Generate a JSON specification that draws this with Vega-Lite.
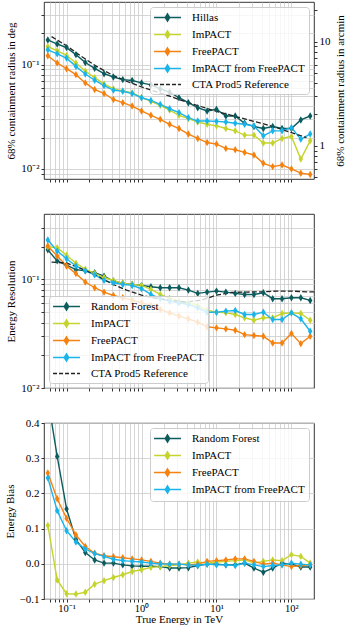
{
"$schema": "https://vega.github.io/schema/vega-lite/v6.json",
"padding": {"left": 3, "top": 1, "right": 0, "bottom": 0},
"config": {
  "font": "Liberation Serif",
  "view": {"stroke": "#000000", "strokeWidth": 0.8},
  "axis": {"domain": false, "tickColor": "#000000", "tickSize": 3, "tickWidth": 0.8, "gridColor": "#cccccc", "gridWidth": 0.8,
    "labelFont": "Liberation Serif", "labelFontSize": 11, "labelColor": "#000000", "labelPadding": 2, "labelOverlap": false, "labelFlush": false,
    "titleFont": "Liberation Serif", "titleFontSize": 11, "titleFontWeight": "normal", "titleColor": "#000000", "titlePadding": 4},
  "legend": {"labelFont": "Liberation Serif", "labelFontSize": 11, "labelColor": "#000000", "fillColor": "rgba(255,255,255,0.8)", "strokeColor": "#cccccc", "cornerRadius": 3, "padding": 4, "offset": 5,
    "symbolSize": 121, "symbolStrokeWidth": 1.5, "rowPadding": 2, "symbolOffset": 7, "labelOffset": 18,
    "symbolType": "M-2.45,0H2.45M0,-0.64L0.4,0L0,0.64L-0.4,0Z"}
},
"datasets": {
"res": [
{"E":0.05623,"v":0.173,"s":"Hillas"},{"E":0.07499,"v":0.158,"s":"Hillas"},{"E":0.1,"v":0.146,"s":"Hillas"},{"E":0.13335,"v":0.125,"s":"Hillas"},{"E":0.17783,"v":0.105,"s":"Hillas"},{"E":0.23714,"v":0.0923,"s":"Hillas"},{"E":0.31623,"v":0.082,"s":"Hillas"},{"E":0.4217,"v":0.0763,"s":"Hillas"},{"E":0.56234,"v":0.072,"s":"Hillas"},{"E":0.74989,"v":0.0705,"s":"Hillas"},{"E":1,"v":0.0669,"s":"Hillas"},{"E":1.3335,"v":0.064,"s":"Hillas"},{"E":1.7783,"v":0.0586,"s":"Hillas"},{"E":2.3714,"v":0.0545,"s":"Hillas"},{"E":3.1623,"v":0.0482,"s":"Hillas"},{"E":4.217,"v":0.0432,"s":"Hillas"},{"E":5.6234,"v":0.0387,"s":"Hillas"},{"E":7.4989,"v":0.036,"s":"Hillas"},{"E":10,"v":0.0373,"s":"Hillas"},{"E":13.335,"v":0.0322,"s":"Hillas"},{"E":17.783,"v":0.0322,"s":"Hillas"},{"E":23.714,"v":0.0274,"s":"Hillas"},{"E":31.623,"v":0.0255,"s":"Hillas"},{"E":42.17,"v":0.0244,"s":"Hillas"},{"E":56.234,"v":0.0255,"s":"Hillas"},{"E":74.989,"v":0.0244,"s":"Hillas"},{"E":100,"v":0.0244,"s":"Hillas"},{"E":133.35,"v":0.0295,"s":"Hillas"},{"E":177.83,"v":0.0322,"s":"Hillas"},
{"E":0.05623,"v":0.1496,"s":"ImPACT"},{"E":0.07499,"v":0.136,"s":"ImPACT"},{"E":0.1,"v":0.1227,"s":"ImPACT"},{"E":0.13335,"v":0.1038,"s":"ImPACT"},{"E":0.17783,"v":0.0871,"s":"ImPACT"},{"E":0.23714,"v":0.0752,"s":"ImPACT"},{"E":0.31623,"v":0.0654,"s":"ImPACT"},{"E":0.4217,"v":0.0586,"s":"ImPACT"},{"E":0.56234,"v":0.0561,"s":"ImPACT"},{"E":0.74989,"v":0.0537,"s":"ImPACT"},{"E":1,"v":0.0485,"s":"ImPACT"},{"E":1.3335,"v":0.0444,"s":"ImPACT"},{"E":1.7783,"v":0.0407,"s":"ImPACT"},{"E":2.3714,"v":0.0367,"s":"ImPACT"},{"E":3.1623,"v":0.0327,"s":"ImPACT"},{"E":4.217,"v":0.0304,"s":"ImPACT"},{"E":5.6234,"v":0.0282,"s":"ImPACT"},{"E":7.4989,"v":0.0268,"s":"ImPACT"},{"E":10,"v":0.0259,"s":"ImPACT"},{"E":13.335,"v":0.0244,"s":"ImPACT"},{"E":17.783,"v":0.0232,"s":"ImPACT"},{"E":23.714,"v":0.0211,"s":"ImPACT"},{"E":31.623,"v":0.0211,"s":"ImPACT"},{"E":42.17,"v":0.0177,"s":"ImPACT"},{"E":56.234,"v":0.0177,"s":"ImPACT"},{"E":74.989,"v":0.0196,"s":"ImPACT"},{"E":100,"v":0.0205,"s":"ImPACT"},{"E":133.35,"v":0.01245,"s":"ImPACT"},{"E":177.83,"v":0.0186,"s":"ImPACT"},
{"E":0.05623,"v":0.1218,"s":"FreePACT"},{"E":0.07499,"v":0.1038,"s":"FreePACT"},{"E":0.1,"v":0.0916,"s":"FreePACT"},{"E":0.13335,"v":0.0803,"s":"FreePACT"},{"E":0.17783,"v":0.0669,"s":"FreePACT"},{"E":0.23714,"v":0.0578,"s":"FreePACT"},{"E":0.31623,"v":0.053,"s":"FreePACT"},{"E":0.4217,"v":0.0464,"s":"FreePACT"},{"E":0.56234,"v":0.0432,"s":"FreePACT"},{"E":0.74989,"v":0.0401,"s":"FreePACT"},{"E":1,"v":0.036,"s":"FreePACT"},{"E":1.3335,"v":0.0327,"s":"FreePACT"},{"E":1.7783,"v":0.0299,"s":"FreePACT"},{"E":2.3714,"v":0.0268,"s":"FreePACT"},{"E":3.1623,"v":0.0244,"s":"FreePACT"},{"E":4.217,"v":0.0216,"s":"FreePACT"},{"E":5.6234,"v":0.0196,"s":"FreePACT"},{"E":7.4989,"v":0.0179,"s":"FreePACT"},{"E":10,"v":0.0173,"s":"FreePACT"},{"E":13.335,"v":0.01574,"s":"FreePACT"},{"E":17.783,"v":0.01528,"s":"FreePACT"},{"E":23.714,"v":0.0144,"s":"FreePACT"},{"E":31.623,"v":0.0136,"s":"FreePACT"},{"E":42.17,"v":0.01132,"s":"FreePACT"},{"E":56.234,"v":0.01052,"s":"FreePACT"},{"E":74.989,"v":0.0109,"s":"FreePACT"},{"E":100,"v":0.01,"s":"FreePACT"},{"E":133.35,"v":0.0091,"s":"FreePACT"},{"E":177.83,"v":0.00883,"s":"FreePACT"},
{"E":0.05623,"v":0.139,"s":"ImPACT from FreePACT"},{"E":0.07499,"v":0.1273,"s":"ImPACT from FreePACT"},{"E":0.1,"v":0.1157,"s":"ImPACT from FreePACT"},{"E":0.13335,"v":0.0964,"s":"ImPACT from FreePACT"},{"E":0.17783,"v":0.0815,"s":"ImPACT from FreePACT"},{"E":0.23714,"v":0.071,"s":"ImPACT from FreePACT"},{"E":0.31623,"v":0.0631,"s":"ImPACT from FreePACT"},{"E":0.4217,"v":0.057,"s":"ImPACT from FreePACT"},{"E":0.56234,"v":0.0557,"s":"ImPACT from FreePACT"},{"E":0.74989,"v":0.053,"s":"ImPACT from FreePACT"},{"E":1,"v":0.0482,"s":"ImPACT from FreePACT"},{"E":1.3335,"v":0.0454,"s":"ImPACT from FreePACT"},{"E":1.7783,"v":0.0416,"s":"ImPACT from FreePACT"},{"E":2.3714,"v":0.0378,"s":"ImPACT from FreePACT"},{"E":3.1623,"v":0.0347,"s":"ImPACT from FreePACT"},{"E":4.217,"v":0.031,"s":"ImPACT from FreePACT"},{"E":5.6234,"v":0.0288,"s":"ImPACT from FreePACT"},{"E":7.4989,"v":0.0288,"s":"ImPACT from FreePACT"},{"E":10,"v":0.0286,"s":"ImPACT from FreePACT"},{"E":13.335,"v":0.0282,"s":"ImPACT from FreePACT"},{"E":17.783,"v":0.0274,"s":"ImPACT from FreePACT"},{"E":23.714,"v":0.0268,"s":"ImPACT from FreePACT"},{"E":31.623,"v":0.0259,"s":"ImPACT from FreePACT"},{"E":42.17,"v":0.0208,"s":"ImPACT from FreePACT"},{"E":56.234,"v":0.0232,"s":"ImPACT from FreePACT"},{"E":74.989,"v":0.0232,"s":"ImPACT from FreePACT"},{"E":100,"v":0.0249,"s":"ImPACT from FreePACT"},{"E":133.35,"v":0.0193,"s":"ImPACT from FreePACT"},{"E":177.83,"v":0.0216,"s":"ImPACT from FreePACT"},
{"E":0.0631,"v":0.186,"s":"CTA Prod5 Reference"},{"E":0.1,"v":0.152,"s":"CTA Prod5 Reference"},{"E":0.1585,"v":0.12,"s":"CTA Prod5 Reference"},{"E":0.2512,"v":0.0964,"s":"CTA Prod5 Reference"},{"E":0.3981,"v":0.0803,"s":"CTA Prod5 Reference"},{"E":0.631,"v":0.0694,"s":"CTA Prod5 Reference"},{"E":1,"v":0.0612,"s":"CTA Prod5 Reference"},{"E":1.585,"v":0.055,"s":"CTA Prod5 Reference"},{"E":2.512,"v":0.0492,"s":"CTA Prod5 Reference"},{"E":3.981,"v":0.0438,"s":"CTA Prod5 Reference"},{"E":6.31,"v":0.0395,"s":"CTA Prod5 Reference"},{"E":10,"v":0.0357,"s":"CTA Prod5 Reference"},{"E":15.85,"v":0.0327,"s":"CTA Prod5 Reference"},{"E":25.12,"v":0.0299,"s":"CTA Prod5 Reference"},{"E":39.81,"v":0.0274,"s":"CTA Prod5 Reference"},{"E":63.1,"v":0.0249,"s":"CTA Prod5 Reference"},{"E":100,"v":0.0223,"s":"CTA Prod5 Reference"},{"E":158.5,"v":0.02,"s":"CTA Prod5 Reference"}
],
"eres": [
{"E":0.05623,"v":0.187,"s":"Random Forest"},{"E":0.07499,"v":0.148,"s":"Random Forest"},{"E":0.1,"v":0.135,"s":"Random Forest"},{"E":0.13335,"v":0.123,"s":"Random Forest"},{"E":0.17783,"v":0.12,"s":"Random Forest"},{"E":0.23714,"v":0.115,"s":"Random Forest"},{"E":0.31623,"v":0.107,"s":"Random Forest"},{"E":0.4217,"v":0.0966,"s":"Random Forest"},{"E":0.56234,"v":0.092,"s":"Random Forest"},{"E":0.74989,"v":0.09,"s":"Random Forest"},{"E":1,"v":0.088,"s":"Random Forest"},{"E":1.3335,"v":0.0856,"s":"Random Forest"},{"E":1.7783,"v":0.0838,"s":"Random Forest"},{"E":2.3714,"v":0.0838,"s":"Random Forest"},{"E":3.1623,"v":0.0838,"s":"Random Forest"},{"E":4.217,"v":0.0797,"s":"Random Forest"},{"E":5.6234,"v":0.0743,"s":"Random Forest"},{"E":7.4989,"v":0.0764,"s":"Random Forest"},{"E":10,"v":0.078,"s":"Random Forest"},{"E":13.335,"v":0.0764,"s":"Random Forest"},{"E":17.783,"v":0.0743,"s":"Random Forest"},{"E":23.714,"v":0.0727,"s":"Random Forest"},{"E":31.623,"v":0.0727,"s":"Random Forest"},{"E":42.17,"v":0.0753,"s":"Random Forest"},{"E":56.234,"v":0.0664,"s":"Random Forest"},{"E":74.989,"v":0.0664,"s":"Random Forest"},{"E":100,"v":0.0678,"s":"Random Forest"},{"E":133.35,"v":0.0678,"s":"Random Forest"},{"E":177.83,"v":0.064,"s":"Random Forest"},
{"E":0.05623,"v":0.2,"s":"ImPACT"},{"E":0.07499,"v":0.196,"s":"ImPACT"},{"E":0.1,"v":0.1667,"s":"ImPACT"},{"E":0.13335,"v":0.141,"s":"ImPACT"},{"E":0.17783,"v":0.124,"s":"ImPACT"},{"E":0.23714,"v":0.1135,"s":"ImPACT"},{"E":0.31623,"v":0.104,"s":"ImPACT"},{"E":0.4217,"v":0.0979,"s":"ImPACT"},{"E":0.56234,"v":0.092,"s":"ImPACT"},{"E":0.74989,"v":0.0899,"s":"ImPACT"},{"E":1,"v":0.088,"s":"ImPACT"},{"E":1.3335,"v":0.0809,"s":"ImPACT"},{"E":1.7783,"v":0.0727,"s":"ImPACT"},{"E":2.3714,"v":0.067,"s":"ImPACT"},{"E":3.1623,"v":0.0631,"s":"ImPACT"},{"E":4.217,"v":0.0609,"s":"ImPACT"},{"E":5.6234,"v":0.0575,"s":"ImPACT"},{"E":7.4989,"v":0.0521,"s":"ImPACT"},{"E":10,"v":0.0499,"s":"ImPACT"},{"E":13.335,"v":0.0492,"s":"ImPACT"},{"E":17.783,"v":0.0475,"s":"ImPACT"},{"E":23.714,"v":0.0443,"s":"ImPACT"},{"E":31.623,"v":0.0421,"s":"ImPACT"},{"E":42.17,"v":0.0443,"s":"ImPACT"},{"E":56.234,"v":0.0443,"s":"ImPACT"},{"E":74.989,"v":0.0485,"s":"ImPACT"},{"E":100,"v":0.0492,"s":"ImPACT"},{"E":133.35,"v":0.0485,"s":"ImPACT"},{"E":177.83,"v":0.0421,"s":"ImPACT"},
{"E":0.05623,"v":0.203,"s":"FreePACT"},{"E":0.07499,"v":0.164,"s":"FreePACT"},{"E":0.1,"v":0.133,"s":"FreePACT"},{"E":0.13335,"v":0.113,"s":"FreePACT"},{"E":0.17783,"v":0.0945,"s":"FreePACT"},{"E":0.23714,"v":0.0838,"s":"FreePACT"},{"E":0.31623,"v":0.0764,"s":"FreePACT"},{"E":0.4217,"v":0.0711,"s":"FreePACT"},{"E":0.56234,"v":0.0678,"s":"FreePACT"},{"E":0.74989,"v":0.0645,"s":"FreePACT"},{"E":1,"v":0.0609,"s":"FreePACT"},{"E":1.3335,"v":0.0575,"s":"FreePACT"},{"E":1.7783,"v":0.0528,"s":"FreePACT"},{"E":2.3714,"v":0.0492,"s":"FreePACT"},{"E":3.1623,"v":0.0459,"s":"FreePACT"},{"E":4.217,"v":0.0433,"s":"FreePACT"},{"E":5.6234,"v":0.0404,"s":"FreePACT"},{"E":7.4989,"v":0.0366,"s":"FreePACT"},{"E":10,"v":0.0358,"s":"FreePACT"},{"E":13.335,"v":0.035,"s":"FreePACT"},{"E":17.783,"v":0.034,"s":"FreePACT"},{"E":23.714,"v":0.031,"s":"FreePACT"},{"E":31.623,"v":0.0304,"s":"FreePACT"},{"E":42.17,"v":0.03,"s":"FreePACT"},{"E":56.234,"v":0.026,"s":"FreePACT"},{"E":74.989,"v":0.026,"s":"FreePACT"},{"E":100,"v":0.0318,"s":"FreePACT"},{"E":133.35,"v":0.0256,"s":"FreePACT"},{"E":177.83,"v":0.03,"s":"FreePACT"},
{"E":0.05623,"v":0.2306,"s":"ImPACT from FreePACT"},{"E":0.07499,"v":0.1828,"s":"ImPACT from FreePACT"},{"E":0.1,"v":0.155,"s":"ImPACT from FreePACT"},{"E":0.13335,"v":0.133,"s":"ImPACT from FreePACT"},{"E":0.17783,"v":0.12,"s":"ImPACT from FreePACT"},{"E":0.23714,"v":0.11,"s":"ImPACT from FreePACT"},{"E":0.31623,"v":0.098,"s":"ImPACT from FreePACT"},{"E":0.4217,"v":0.093,"s":"ImPACT from FreePACT"},{"E":0.56234,"v":0.0899,"s":"ImPACT from FreePACT"},{"E":0.74989,"v":0.088,"s":"ImPACT from FreePACT"},{"E":1,"v":0.082,"s":"ImPACT from FreePACT"},{"E":1.3335,"v":0.0727,"s":"ImPACT from FreePACT"},{"E":1.7783,"v":0.0664,"s":"ImPACT from FreePACT"},{"E":2.3714,"v":0.0631,"s":"ImPACT from FreePACT"},{"E":3.1623,"v":0.0609,"s":"ImPACT from FreePACT"},{"E":4.217,"v":0.0588,"s":"ImPACT from FreePACT"},{"E":5.6234,"v":0.0547,"s":"ImPACT from FreePACT"},{"E":7.4989,"v":0.0499,"s":"ImPACT from FreePACT"},{"E":10,"v":0.0499,"s":"ImPACT from FreePACT"},{"E":13.335,"v":0.051,"s":"ImPACT from FreePACT"},{"E":17.783,"v":0.0517,"s":"ImPACT from FreePACT"},{"E":23.714,"v":0.0475,"s":"ImPACT from FreePACT"},{"E":31.623,"v":0.0475,"s":"ImPACT from FreePACT"},{"E":42.17,"v":0.0499,"s":"ImPACT from FreePACT"},{"E":56.234,"v":0.0427,"s":"ImPACT from FreePACT"},{"E":74.989,"v":0.0427,"s":"ImPACT from FreePACT"},{"E":100,"v":0.0492,"s":"ImPACT from FreePACT"},{"E":133.35,"v":0.0433,"s":"ImPACT from FreePACT"},{"E":177.83,"v":0.0333,"s":"ImPACT from FreePACT"},
{"E":0.0631,"v":0.1445,"s":"CTA Prod5 Reference"},{"E":0.1,"v":0.1416,"s":"CTA Prod5 Reference"},{"E":0.1585,"v":0.1253,"s":"CTA Prod5 Reference"},{"E":0.2512,"v":0.1089,"s":"CTA Prod5 Reference"},{"E":0.3981,"v":0.0912,"s":"CTA Prod5 Reference"},{"E":0.631,"v":0.0797,"s":"CTA Prod5 Reference"},{"E":1,"v":0.0716,"s":"CTA Prod5 Reference"},{"E":1.585,"v":0.0668,"s":"CTA Prod5 Reference"},{"E":2.512,"v":0.064,"s":"CTA Prod5 Reference"},{"E":3.981,"v":0.0618,"s":"CTA Prod5 Reference"},{"E":6.31,"v":0.0645,"s":"CTA Prod5 Reference"},{"E":10,"v":0.0716,"s":"CTA Prod5 Reference"},{"E":15.85,"v":0.0759,"s":"CTA Prod5 Reference"},{"E":25.12,"v":0.0764,"s":"CTA Prod5 Reference"},{"E":39.81,"v":0.0769,"s":"CTA Prod5 Reference"},{"E":63.1,"v":0.078,"s":"CTA Prod5 Reference"},{"E":100,"v":0.078,"s":"CTA Prod5 Reference"},{"E":158.5,"v":0.0769,"s":"CTA Prod5 Reference"},{"E":251.2,"v":0.0769,"s":"CTA Prod5 Reference"}
],
"bias": [
{"E":0.05623,"v":0.47,"s":"Random Forest"},{"E":0.07499,"v":0.305,"s":"Random Forest"},{"E":0.1,"v":0.156,"s":"Random Forest"},{"E":0.13335,"v":0.069,"s":"Random Forest"},{"E":0.17783,"v":0.032,"s":"Random Forest"},{"E":0.23714,"v":0.011,"s":"Random Forest"},{"E":0.31623,"v":0.002,"s":"Random Forest"},{"E":0.4217,"v":0.002,"s":"Random Forest"},{"E":0.56234,"v":-0.003,"s":"Random Forest"},{"E":0.74989,"v":-0.006,"s":"Random Forest"},{"E":1,"v":-0.007,"s":"Random Forest"},{"E":1.3335,"v":-0.007,"s":"Random Forest"},{"E":1.7783,"v":-0.008,"s":"Random Forest"},{"E":2.3714,"v":-0.012,"s":"Random Forest"},{"E":3.1623,"v":-0.012,"s":"Random Forest"},{"E":4.217,"v":-0.011,"s":"Random Forest"},{"E":5.6234,"v":-0.005,"s":"Random Forest"},{"E":7.4989,"v":-0.001,"s":"Random Forest"},{"E":10,"v":-0.001,"s":"Random Forest"},{"E":13.335,"v":-0.003,"s":"Random Forest"},{"E":17.783,"v":-0.003,"s":"Random Forest"},{"E":23.714,"v":0.002,"s":"Random Forest"},{"E":31.623,"v":-0.012,"s":"Random Forest"},{"E":42.17,"v":-0.024,"s":"Random Forest"},{"E":56.234,"v":-0.012,"s":"Random Forest"},{"E":74.989,"v":0.002,"s":"Random Forest"},{"E":100,"v":-0.001,"s":"Random Forest"},{"E":133.35,"v":-0.009,"s":"Random Forest"},{"E":177.83,"v":-0.009,"s":"Random Forest"},
{"E":0.05623,"v":0.109,"s":"ImPACT"},{"E":0.07499,"v":-0.046,"s":"ImPACT"},{"E":0.1,"v":-0.085,"s":"ImPACT"},{"E":0.13335,"v":-0.086,"s":"ImPACT"},{"E":0.17783,"v":-0.081,"s":"ImPACT"},{"E":0.23714,"v":-0.058,"s":"ImPACT"},{"E":0.31623,"v":-0.048,"s":"ImPACT"},{"E":0.4217,"v":-0.039,"s":"ImPACT"},{"E":0.56234,"v":-0.031,"s":"ImPACT"},{"E":0.74989,"v":-0.022,"s":"ImPACT"},{"E":1,"v":-0.017,"s":"ImPACT"},{"E":1.3335,"v":-0.01,"s":"ImPACT"},{"E":1.7783,"v":-0.008,"s":"ImPACT"},{"E":2.3714,"v":-0.005,"s":"ImPACT"},{"E":3.1623,"v":-0.003,"s":"ImPACT"},{"E":4.217,"v":0.002,"s":"ImPACT"},{"E":5.6234,"v":0.005,"s":"ImPACT"},{"E":7.4989,"v":0.002,"s":"ImPACT"},{"E":10,"v":0.005,"s":"ImPACT"},{"E":13.335,"v":0.007,"s":"ImPACT"},{"E":17.783,"v":0.009,"s":"ImPACT"},{"E":23.714,"v":0.011,"s":"ImPACT"},{"E":31.623,"v":0.002,"s":"ImPACT"},{"E":42.17,"v":0.007,"s":"ImPACT"},{"E":56.234,"v":0.011,"s":"ImPACT"},{"E":74.989,"v":0.009,"s":"ImPACT"},{"E":100,"v":0.026,"s":"ImPACT"},{"E":133.35,"v":0.021,"s":"ImPACT"},{"E":177.83,"v":0.002,"s":"ImPACT"},
{"E":0.05623,"v":0.258,"s":"FreePACT"},{"E":0.07499,"v":0.185,"s":"FreePACT"},{"E":0.1,"v":0.129,"s":"FreePACT"},{"E":0.13335,"v":0.082,"s":"FreePACT"},{"E":0.17783,"v":0.049,"s":"FreePACT"},{"E":0.23714,"v":0.03,"s":"FreePACT"},{"E":0.31623,"v":0.023,"s":"FreePACT"},{"E":0.4217,"v":0.02,"s":"FreePACT"},{"E":0.56234,"v":0.017,"s":"FreePACT"},{"E":0.74989,"v":0.014,"s":"FreePACT"},{"E":1,"v":0.011,"s":"FreePACT"},{"E":1.3335,"v":0.007,"s":"FreePACT"},{"E":1.7783,"v":0.002,"s":"FreePACT"},{"E":2.3714,"v":-0.001,"s":"FreePACT"},{"E":3.1623,"v":-0.001,"s":"FreePACT"},{"E":4.217,"v":-0.003,"s":"FreePACT"},{"E":5.6234,"v":-0.001,"s":"FreePACT"},{"E":7.4989,"v":0.007,"s":"FreePACT"},{"E":10,"v":0.009,"s":"FreePACT"},{"E":13.335,"v":0.011,"s":"FreePACT"},{"E":17.783,"v":0.014,"s":"FreePACT"},{"E":23.714,"v":0.014,"s":"FreePACT"},{"E":31.623,"v":0.007,"s":"FreePACT"},{"E":42.17,"v":-0.001,"s":"FreePACT"},{"E":56.234,"v":0.002,"s":"FreePACT"},{"E":74.989,"v":-0.003,"s":"FreePACT"},{"E":100,"v":-0.008,"s":"FreePACT"},{"E":133.35,"v":-0.005,"s":"FreePACT"},{"E":177.83,"v":-0.003,"s":"FreePACT"},
{"E":0.05623,"v":0.244,"s":"ImPACT from FreePACT"},{"E":0.07499,"v":0.151,"s":"ImPACT from FreePACT"},{"E":0.1,"v":0.094,"s":"ImPACT from FreePACT"},{"E":0.13335,"v":0.062,"s":"ImPACT from FreePACT"},{"E":0.17783,"v":0.042,"s":"ImPACT from FreePACT"},{"E":0.23714,"v":0.029,"s":"ImPACT from FreePACT"},{"E":0.31623,"v":0.021,"s":"ImPACT from FreePACT"},{"E":0.4217,"v":0.013,"s":"ImPACT from FreePACT"},{"E":0.56234,"v":0.009,"s":"ImPACT from FreePACT"},{"E":0.74989,"v":0.007,"s":"ImPACT from FreePACT"},{"E":1,"v":0.005,"s":"ImPACT from FreePACT"},{"E":1.3335,"v":0.002,"s":"ImPACT from FreePACT"},{"E":1.7783,"v":0.0,"s":"ImPACT from FreePACT"},{"E":2.3714,"v":-0.001,"s":"ImPACT from FreePACT"},{"E":3.1623,"v":-0.001,"s":"ImPACT from FreePACT"},{"E":4.217,"v":-0.003,"s":"ImPACT from FreePACT"},{"E":5.6234,"v":-0.005,"s":"ImPACT from FreePACT"},{"E":7.4989,"v":-0.001,"s":"ImPACT from FreePACT"},{"E":10,"v":-0.003,"s":"ImPACT from FreePACT"},{"E":13.335,"v":-0.003,"s":"ImPACT from FreePACT"},{"E":17.783,"v":-0.005,"s":"ImPACT from FreePACT"},{"E":23.714,"v":0.002,"s":"ImPACT from FreePACT"},{"E":31.623,"v":-0.003,"s":"ImPACT from FreePACT"},{"E":42.17,"v":-0.008,"s":"ImPACT from FreePACT"},{"E":56.234,"v":-0.005,"s":"ImPACT from FreePACT"},{"E":74.989,"v":-0.003,"s":"ImPACT from FreePACT"},{"E":100,"v":0.002,"s":"ImPACT from FreePACT"},{"E":133.35,"v":-0.001,"s":"ImPACT from FreePACT"},{"E":177.83,"v":-0.003,"s":"ImPACT from FreePACT"}
]
},
"spacing": 35,
"bounds": "flush",
"resolve": {"scale": {"color": "independent"}},
"vconcat": [
{
  "width": 270, "height": 177,
  "layer": [
    {
      "data": {"name": "res"},
      "encoding": {
        "x": {"field": "E", "type": "quantitative", "scale": {"type": "log", "domain": [0.05, 200]},
          "axis": {"values": [0.06,0.07,0.08,0.09,0.1,0.2,0.3,0.4,0.5,0.6,0.7,0.8,0.9,1,2,3,4,5,6,7,8,9,10,20,30,40,50,60,70,80,90,100], "labels": false, "title": null, "grid": true}},
        "y": {"field": "v", "type": "quantitative", "scale": {"type": "log", "domain": [0.008, 0.4]},
          "axis": {"values": [0.009,0.01,0.02,0.03,0.04,0.05,0.06,0.07,0.08,0.09,0.1,0.2,0.3], "labelExpr": "datum.value===0.1?'10⁻¹':datum.value===0.01?'10⁻²':''", "title": "68% containment radius in deg", "grid": true}},
        "color": {"field": "s", "type": "nominal",
          "scale": {"domain": ["Hillas","ImPACT","FreePACT","ImPACT from FreePACT","CTA Prod5 Reference"], "range": ["#0c5c5e","#c5d42c","#f5820f","#19b4ea","#222222"]},
          "legend": {"title": null, "orient": "top-right",
            "encode": {"symbols": {"update": {
              "stroke": {"signal": "datum.value==='ImPACT'?'#c5d42c':datum.value==='FreePACT'?'#f5820f':datum.value==='ImPACT from FreePACT'?'#19b4ea':datum.value==='CTA Prod5 Reference'?'#222222':'#0c5c5e'"},
              "fill": {"signal": "datum.value==='ImPACT'?'#c5d42c':datum.value==='FreePACT'?'#f5820f':datum.value==='ImPACT from FreePACT'?'#19b4ea':datum.value==='CTA Prod5 Reference'?'transparent':'#0c5c5e'"},
              "strokeDash": {"signal": "datum.value==='CTA Prod5 Reference'?[4,2]:[1,0]"},
              "shape": {"signal": "datum.value==='CTA Prod5 Reference'?'M-2.45,0H2.45':'M-2.45,0H2.45M0,-0.64L0.4,0L0,0.64L-0.4,0Z'"},
              "opacity": {"value": 1}}}}}}
      },
      "layer": [
        {"transform": [{"filter": "datum.s !== 'CTA Prod5 Reference'"}], "mark": {"type": "line", "strokeWidth": 1.4, "clip": true}},
        {"transform": [{"filter": "datum.s === 'CTA Prod5 Reference'"}], "mark": {"type": "line", "strokeWidth": 1.3, "strokeDash": [5, 2.2], "clip": true}},
        {"transform": [{"filter": "datum.s !== 'CTA Prod5 Reference'"}], "mark": {"type": "point", "shape": "M0,-1L0.6,0L0,1L-0.6,0Z", "filled": true, "size": 55, "opacity": 1, "clip": true}}
      ]
    },
    {
      "data": {"values": [{"am": 1}, {"am": 10}]},
      "mark": {"type": "point", "opacity": 0, "clip": true},
      "encoding": {
        "y": {"field": "am", "type": "quantitative", "scale": {"type": "log", "domain": [0.48, 24]},
          "axis": {"orient": "right", "values": [0.5,0.6,0.7,0.8,0.9,1,2,3,4,5,6,7,8,9,10,20], "labelExpr": "datum.value===1?'1':datum.value===10?'10':''", "title": "68% containment radius in arcmin", "titleAngle": 270, "titleBaseline": "top", "grid": false}}
      }
    }
  ],
  "resolve": {"scale": {"y": "independent"}}
},
{
  "width": 270, "height": 174,
  "data": {"name": "eres"},
  "encoding": {
    "x": {"field": "E", "type": "quantitative", "scale": {"type": "log", "domain": [0.05, 200]},
      "axis": {"values": [0.06,0.07,0.08,0.09,0.1,0.2,0.3,0.4,0.5,0.6,0.7,0.8,0.9,1,2,3,4,5,6,7,8,9,10,20,30,40,50,60,70,80,90,100], "labels": false, "title": null, "grid": true}},
    "y": {"field": "v", "type": "quantitative", "scale": {"type": "log", "domain": [0.01, 0.4]},
      "axis": {"values": [0.01,0.02,0.03,0.04,0.05,0.06,0.07,0.08,0.09,0.1,0.2,0.3], "labelExpr": "datum.value===0.1?'10⁻¹':datum.value===0.01?'10⁻²':''", "title": "Energy Resolution", "grid": true}},
    "color": {"field": "s", "type": "nominal",
      "scale": {"domain": ["Random Forest","ImPACT","FreePACT","ImPACT from FreePACT","CTA Prod5 Reference"], "range": ["#0c5c5e","#c5d42c","#f5820f","#19b4ea","#222222"]},
      "legend": {"title": null, "orient": "bottom-left",
        "encode": {"symbols": {"update": {
          "stroke": {"signal": "datum.value==='ImPACT'?'#c5d42c':datum.value==='FreePACT'?'#f5820f':datum.value==='ImPACT from FreePACT'?'#19b4ea':datum.value==='CTA Prod5 Reference'?'#222222':'#0c5c5e'"},
          "fill": {"signal": "datum.value==='ImPACT'?'#c5d42c':datum.value==='FreePACT'?'#f5820f':datum.value==='ImPACT from FreePACT'?'#19b4ea':datum.value==='CTA Prod5 Reference'?'transparent':'#0c5c5e'"},
          "strokeDash": {"signal": "datum.value==='CTA Prod5 Reference'?[4,2]:[1,0]"},
          "shape": {"signal": "datum.value==='CTA Prod5 Reference'?'M-2.45,0H2.45':'M-2.45,0H2.45M0,-0.64L0.4,0L0,0.64L-0.4,0Z'"},
          "opacity": {"value": 1}}}}}}
  },
  "layer": [
    {"transform": [{"filter": "datum.s !== 'CTA Prod5 Reference'"}], "mark": {"type": "line", "strokeWidth": 1.4, "clip": true}},
    {"transform": [{"filter": "datum.s === 'CTA Prod5 Reference'"}], "mark": {"type": "line", "strokeWidth": 1.3, "strokeDash": [5, 2.2], "clip": true}},
    {"transform": [{"filter": "datum.s !== 'CTA Prod5 Reference'"}], "mark": {"type": "point", "shape": "M0,-1L0.6,0L0,1L-0.6,0Z", "filled": true, "size": 55, "opacity": 1, "clip": true}}
  ]
},
{
  "width": 270, "height": 176,
  "data": {"name": "bias"},
  "encoding": {
    "x": {"field": "E", "type": "quantitative", "scale": {"type": "log", "domain": [0.05, 200]},
      "axis": {"values": [0.06,0.07,0.08,0.09,0.1,0.2,0.3,0.4,0.5,0.6,0.7,0.8,0.9,1,2,3,4,5,6,7,8,9,10,20,30,40,50,60,70,80,90,100], "labelExpr": "datum.value===0.1?'10⁻¹':datum.value===1?'10⁰':datum.value===10?'10¹':datum.value===100?'10²':''", "title": "True Energy in TeV", "labelFontSize": 10.5, "labelPadding": 1, "titlePadding": 0, "grid": true}},
    "y": {"field": "v", "type": "quantitative", "scale": {"domain": [-0.1, 0.4], "nice": false, "zero": false},
      "axis": {"values": [-0.1,0,0.1,0.2,0.3,0.4], "format": ".1f", "labelExpr": "replace(datum.label,'-','−')", "title": "Energy Bias", "grid": true}},
    "color": {"field": "s", "type": "nominal",
      "scale": {"domain": ["Random Forest","ImPACT","FreePACT","ImPACT from FreePACT"], "range": ["#0c5c5e","#c5d42c","#f5820f","#19b4ea"]},
      "legend": {"title": null, "orient": "top-right",
        "encode": {"symbols": {"update": {
          "stroke": {"signal": "datum.value==='ImPACT'?'#c5d42c':datum.value==='FreePACT'?'#f5820f':datum.value==='ImPACT from FreePACT'?'#19b4ea':'#0c5c5e'"},
          "fill": {"signal": "datum.value==='ImPACT'?'#c5d42c':datum.value==='FreePACT'?'#f5820f':datum.value==='ImPACT from FreePACT'?'#19b4ea':'#0c5c5e'"},
          "strokeDash": {"value": [1,0]},
          "shape": {"value": "M-2.45,0H2.45M0,-0.64L0.4,0L0,0.64L-0.4,0Z"},
          "opacity": {"value": 1}}}}}}
  },
  "layer": [
    {"mark": {"type": "line", "strokeWidth": 1.4, "clip": true}},
    {"mark": {"type": "point", "shape": "M0,-1L0.6,0L0,1L-0.6,0Z", "filled": true, "size": 55, "opacity": 1, "clip": true}}
  ]
}
]
}
